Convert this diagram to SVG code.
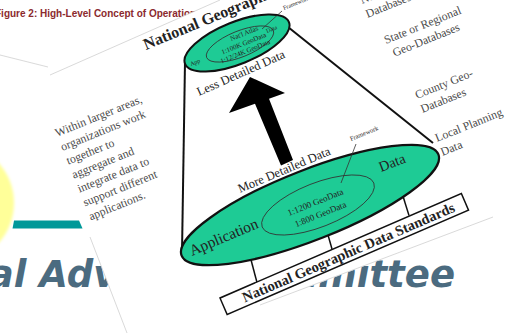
<svg xmlns="http://www.w3.org/2000/svg" width="520" height="333" viewBox="0 0 520 333">
  <defs>
    <filter id="soft" x="-50%" y="-50%" width="200%" height="200%">
      <feGaussianBlur stdDeviation="1.5"/>
    </filter>
    <style>
      .lbl { font-family: "Liberation Serif", "Times New Roman", serif; fill: #222; }
      .side { font-family: "Liberation Serif", "Times New Roman", serif; fill: #4a4a4a; font-size: 11.8px; }
      .green { fill: #1ecb95; stroke: #111; }
      .thin { fill: none; stroke: #333; stroke-width: 0.8; }
      .edge { fill: none; stroke: #cfcfcf; stroke-width: 0.8; }
      .big { font-family: "DejaVu Sans", Verdana, sans-serif; font-weight: bold; font-style: italic; font-size: 37px; fill: #4b6b80; }
    </style>
  </defs>

  <rect width="520" height="333" fill="#ffffff"/>

  <!-- slide background -->
  <g id="slide">
    <ellipse cx="-42" cy="203" rx="56" ry="58" fill="#ffff99" filter="url(#soft)"/>
    <polygon points="14,220.5 79,220.5 82.5,228.5 12.5,228.5" fill="#009999"/>
    <text x="-5" y="17" font-family="Liberation Sans, Arial, sans-serif" font-weight="bold" font-size="10" fill="#8b2a2e">Figure 2: High-Level Concept of Operations</text>
    <text class="big" x="-196" y="287">Geospatial Advisory</text>
    <text class="big" x="455" y="287" text-anchor="end">Committee</text>
  </g>

  <!-- tilted sheet carrying the diagram -->
  <g id="sheet">
    <polygon points="40,80 220,0 520,0 520,207 187,333 127,333 90,237" fill="#ffffff"/>
    <line class="edge" x1="0" y1="55" x2="48" y2="67"/>
    <line class="edge" x1="50" y1="75" x2="220" y2="0"/>
    <line class="edge" x1="90" y1="237" x2="127" y2="333"/>
    <line class="edge" x1="260" y1="305" x2="493" y2="217"/>
  </g>

  <!-- side notes -->
  <g id="note-left">
    <text class="side" fill="#333" transform="translate(57,137) rotate(-22)">
      <tspan x="0" y="0">Within larger areas,</tspan>
      <tspan x="0" dy="15">organizations work</tspan>
      <tspan x="0" dy="15">together to</tspan>
      <tspan x="0" dy="15">aggregate and</tspan>
      <tspan x="0" dy="15">integrate data to</tspan>
      <tspan x="0" dy="15">support different</tspan>
      <tspan x="0" dy="15">applications.</tspan>
    </text>
  </g>
  <g id="note-national">
    <text class="side" transform="translate(362,4) rotate(-22)">
      <tspan x="0" y="0">National Geo-</tspan>
      <tspan x="0" dy="15">Databases</tspan>
    </text>
  </g>
  <g id="note-state">
    <text class="side" transform="translate(386,44) rotate(-22)">
      <tspan x="0" y="0">State or Regional</tspan>
      <tspan x="3" dy="15">Geo-Databases</tspan>
    </text>
  </g>
  <g id="note-county">
    <text class="side" transform="translate(417,99) rotate(-22)">
      <tspan x="0" y="0">County Geo-</tspan>
      <tspan x="0" dy="15">Databases</tspan>
    </text>
  </g>
  <g id="note-local">
    <text class="side" transform="translate(437,142) rotate(-22)">
      <tspan x="0" y="0">Local Planning</tspan>
      <tspan x="0" dy="15">Data</tspan>
    </text>
  </g>

  <!-- connectors: cone sides and standard supports -->
  <g id="connectors" stroke="#111" fill="none">
    <line x1="185" y1="62" x2="182" y2="252" stroke-width="2"/>
    <line x1="283" y1="23" x2="433" y2="143" stroke-width="2"/>
    <line x1="250" y1="256" x2="257" y2="282.5" stroke-width="1.5"/>
    <line x1="326" y1="228" x2="332" y2="249" stroke-width="1.5"/>
    <line x1="402" y1="193" x2="409" y2="215.5" stroke-width="1.5"/>
  </g>

  <!-- local level disc -->
  <g id="local-disc">
    <ellipse class="green" cx="310" cy="205" rx="138" ry="35" stroke-width="2.2" transform="rotate(-21.5 310 205)"/>
    <ellipse class="thin" cx="318" cy="205" rx="60" ry="22" transform="rotate(-21.5 318 205)"/>
    <line class="thin" x1="356" y1="144" x2="341" y2="183"/>
    <text class="lbl" font-size="6.5" transform="translate(351,141) rotate(-22)">Framework</text>
    <text class="lbl" font-size="9" text-anchor="middle" transform="translate(316.5,205) rotate(-22)">1:1200 GeoData</text>
    <text class="lbl" font-size="9" text-anchor="middle" transform="translate(321.5,217) rotate(-22)">1:800 GeoData</text>
    <text class="lbl" font-size="15.5" transform="translate(192,256) rotate(-23)">Application</text>
    <text class="lbl" font-size="14.5" transform="translate(381,172) rotate(-21)">Data</text>
    <text class="lbl" font-size="12.5" transform="translate(240,193) rotate(-23)">More Detailed Data</text>
  </g>

  <!-- national level disc -->
  <g id="national-disc">
    <ellipse class="green" cx="237" cy="43" rx="56" ry="21" stroke-width="2" transform="rotate(-22 237 43)"/>
    <ellipse class="thin" cx="240" cy="44" rx="36" ry="13" transform="rotate(-22 240 44)"/>
    <line class="thin" x1="262" y1="29" x2="282" y2="11"/>
    <text class="lbl" font-size="6" transform="translate(284,10) rotate(-22)">Framework</text>
    <text class="lbl" font-size="6" transform="translate(191,66) rotate(-22)">App</text>
    <text class="lbl" font-size="6" transform="translate(267,33) rotate(-22)">Data</text>
    <text class="lbl" font-size="7" text-anchor="middle" transform="translate(245,35.5) rotate(-22)">Nat'l Atlas</text>
    <text class="lbl" font-size="7" text-anchor="middle" transform="translate(244.5,45.5) rotate(-22)">1:100K GeoData</text>
    <text class="lbl" font-size="7" text-anchor="middle" transform="translate(246,53.5) rotate(-22)">1:12/24K GeoData</text>
    <text class="lbl" font-size="16" font-weight="bold" transform="translate(146,50) rotate(-22.5)">National Geographic</text>
    <text class="lbl" font-size="12.5" transform="translate(199,96) rotate(-24)">Less Detailed Data</text>
  </g>

  <!-- aggregation arrow -->
  <g id="arrow">
    <polygon points="250,77 285,93 269,98.7 293,160 281,165.5 255,103.7 229,113" fill="#000"/>
  </g>

  <!-- standards base -->
  <g id="standards" transform="translate(220,298) rotate(-23.4)">
    <rect x="0" y="0" width="263" height="18" fill="#fff" stroke="#111" stroke-width="1.5"/>
    <text class="lbl" x="136" y="14" text-anchor="middle" font-size="14.5" font-weight="bold" fill="#111">National Geographic Data Standards</text>
  </g>
</svg>
